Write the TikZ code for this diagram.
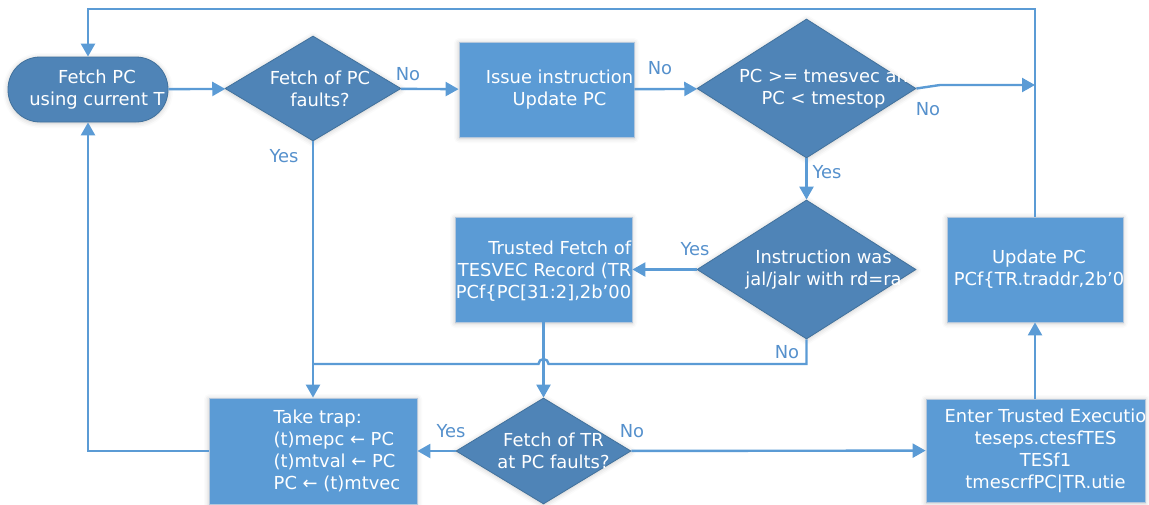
\documentclass[tikz,border=0pt]{standalone}
\usepackage{fontspec}
\setmainfont{DejaVu Sans}
\usetikzlibrary{arrows.meta,positioning,shapes.geometric,shadows.blur}
\definecolor{lineblue}{HTML}{5B9BD5}
\definecolor{boxblue}{HTML}{5B9BD5}
\definecolor{deepblue}{HTML}{4F84B7}
\definecolor{edgeblue}{HTML}{41719C}
\definecolor{paleedge}{HTML}{B4C7DC}
\definecolor{labelblue}{HTML}{5590CC}
\newcommand{\flowfont}{\fontsize{17.9}{22}\selectfont}

\begin{document}
\begin{tikzpicture}[
  x=1pt,y=-1pt,
  txt/.style={text=white,font=\flowfont,align=center,inner sep=0pt},
  glow/.style={blur shadow={shadow xshift=0pt,shadow yshift=-1pt,
               shadow blur radius=5pt,shadow opacity=22}},
  proc/.style={draw=paleedge,fill=boxblue,line width=0.8pt,inner sep=0pt,glow},
  ask/.style={diamond,draw=edgeblue,fill=deepblue,line width=0.8pt,
              inner sep=0pt,glow},
  term/.style={draw=edgeblue,fill=deepblue,line width=0.8pt,inner sep=0pt,
               rounded corners=32pt,minimum width=160pt,minimum height=65pt,glow},
  wire/.style={line width=2.4pt,draw=lineblue},
  arrow/.style={wire,-{Triangle[length=13pt,width=14pt]}},
  yn/.style={text=labelblue,font=\flowfont,inner sep=0pt,anchor=base}
]
  \useasboundingbox (0,0) rectangle (1149,504);

  % shapes
  \node[term] (fetch) at (88,89.5)
    [label={[txt,xshift=9pt]center:{Fetch PC\\using current T}}] {};
  \node[ask,minimum width=176pt,minimum height=105pt] (faultq) at (313,88.5)
    [label={[txt,xshift=7pt]center:{Fetch of PC\\faults?}}] {};
  \node[proc,minimum width=175pt,minimum height=95pt] (issue) at (546.5,89.5)
    [label={[txt,xshift=13pt]center:{Issue instruction\\Update PC}}] {};
  \node[ask,minimum width=219pt,minimum height=139pt] (rangeq) at (806.5,88.5)
    [label={[txt,xshift=17pt]center:{PC >= tmesvec an\\PC < tmestop}}] {};
  \node[ask,minimum width=219pt,minimum height=139pt] (jalq) at (806.5,269.5)
    [label={[txt,xshift=17pt]center:{Instruction was\\jal/jalr with rd=ra}}] {};
  \node[proc,minimum width=177pt,minimum height=105pt] (tfetch) at (543.5,269.5)
    [label={[txt,align=right,anchor=east,xshift=-1pt,yshift=-2pt]east:{Trusted Fetch of\\TESVEC Record (TR\\PCf\{PC[31:2],2b’00}}] {};
  \node[proc,minimum width=176pt,minimum height=105pt] (update) at (1035,269.5)
    [label={[txt,xshift=4pt]center:{Update PC\\PCf\{TR.traddr,2b’0}}] {};
  \node[proc,minimum width=208pt,minimum height=106pt] (trap) at (313,451)
    [label={[txt,align=left,xshift=24pt]center:{Take trap:\\(t)mepc ← PC\\(t)mtval ← PC\\PC ← (t)mtvec}}] {};
  \node[ask,minimum width=175pt,minimum height=106pt] (tfetchq) at (543.5,451)
    [label={[txt,xshift=10pt]center:{Fetch of TR\\at PC faults?}}] {};
  \node[proc,minimum width=219pt,minimum height=103pt] (enter) at (1035.5,450.5)
    [label={[txt,xshift=10pt]center:{Enter Trusted Executio\\teseps.ctesfTES\\TESf1\\tmescrfPC|TR.utie}}] {};

  % helper points
  \coordinate (top) at (1035,9);
  \coordinate (bend) at (940,85);
  \coordinate (join) at (1035,85);
  \coordinate (hop) at (548.5,364);
  \coordinate (merge) at (313,364);

  % connectors
  \draw[arrow] (fetch) -- (faultq);
  \draw[arrow] (faultq) -- (issue);
  \draw[arrow] (issue) -- (rangeq);
  \draw[arrow] (rangeq.east) -- (bend) -- (join);
  \draw[arrow] (rangeq) -- (jalq);
  \draw[arrow] (jalq) -- (tfetch);
  \draw[wire] (jalq.south) |- (hop) arc(0:180:5pt) -- (merge);
  \draw[arrow] (faultq.south) -- (trap.north);
  \draw[arrow] (tfetch) -- (tfetchq);
  \draw[arrow] (tfetchq) -- (trap);
  \draw[arrow] (tfetchq) -- (enter);
  \draw[arrow] ([xshift=-0.5pt]enter.north) -- (update.south);
  \draw[arrow] (trap.west) -| (fetch.south);
  \draw[arrow] (update.north) -- (top) -| (fetch.north);

  % branch labels
  \node[yn] (no1) at (408,80) {No};
  \node[yn] (yes1) at (284,162) {Yes};
  \node[yn] (no2) at (660,74) {No};
  \node[yn] (no3) at (928,115) {No};
  \node[yn] (yes2) at (827,178) {Yes};
  \node[yn] (yes3) at (695,255) {Yes};
  \node[yn] (no4) at (787,358) {No};
  \node[yn] (yes4) at (451,437) {Yes};
  \node[yn] (no5) at (632,437) {No};
\end{tikzpicture}
\end{document}
